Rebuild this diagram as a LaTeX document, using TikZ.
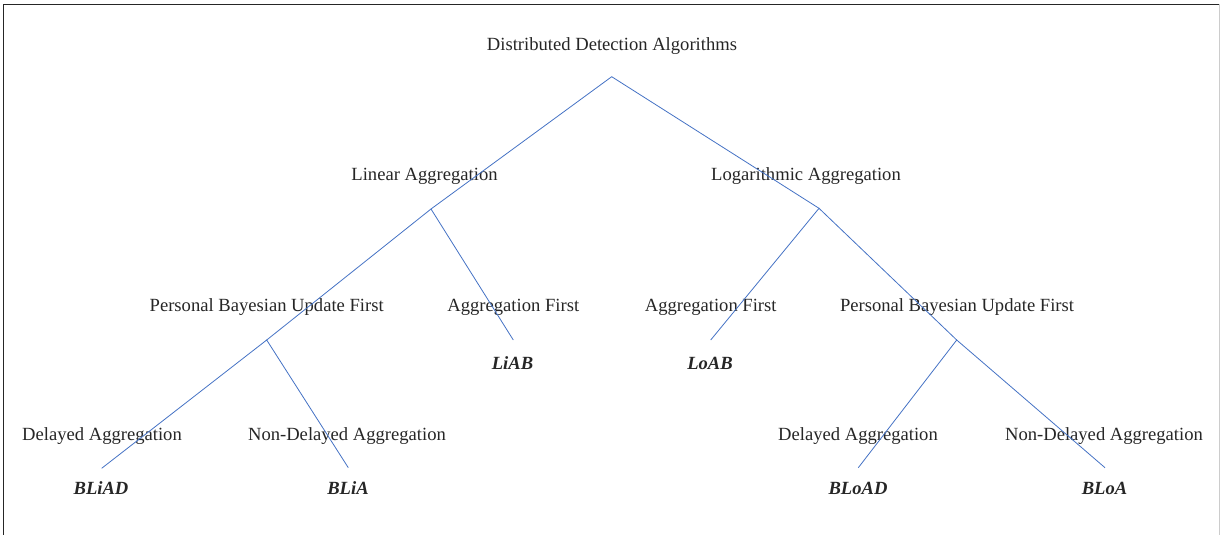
\documentclass[tikz,border=0pt]{standalone}
\usepackage{fontspec}
\setmainfont{Liberation Serif}
\begin{document}
\begin{tikzpicture}[x=1pt,y=-1pt,
  lbl/.style={inner sep=0pt,text=black!85,font=\fontsize{18.6}{22}\selectfont},
  res/.style={inner sep=0pt,text=black!85,font=\fontsize{18.6}{22}\selectfont\bfseries\itshape},
  branch/.style={draw={rgb,255:red,68;green,114;blue,196},line width=0.8pt}]
\useasboundingbox (0,0) rectangle (1220,535);
% frame
\draw[black!85,line width=1.2pt] (3.7,540) -- (3.7,4.4) -- (1219,4.4);
\draw[black!20,line width=1pt] (1219,4.4) -- (1219,540);
% labels
\node[lbl] (root) at (612,46) {Distributed Detection Algorithms};
\node[lbl] (lin) at (424.5,176) {Linear Aggregation};
\node[lbl] (log) at (806,176) {Logarithmic Aggregation};
\node[lbl] (pbl) at (266.7,307.5) {Personal Bayesian Update First};
\node[lbl] (afl) at (513.3,307.5) {Aggregation First};
\node[lbl] (afr) at (710.7,307.5) {Aggregation First};
\node[lbl] (pbr) at (957,307.5) {Personal Bayesian Update First};
\node[res] (liab) at (512.5,363.5) {LiAB};
\node[res] (loab) at (710,363.5) {LoAB};
\node[lbl] (dal) at (102,436.5) {Delayed Aggregation};
\node[lbl] (ndl) at (347,436.5) {Non-Delayed Aggregation};
\node[lbl] (dar) at (858,436.5) {Delayed Aggregation};
\node[lbl] (ndr) at (1104,436.5) {Non-Delayed Aggregation};
\node[res] (bliad) at (101,488.5) {BLiAD};
\node[res] (blia) at (348,488.5) {BLiA};
\node[res] (bload) at (858,488.5) {BLoAD};
\node[res] (bloa) at (1104.5,488.5) {BLoA};
% junctions and ends
\coordinate (apex) at (611.7,76.7);
\coordinate (jlin) at (431,209);
\coordinate (jlog) at (819,208.3);
\coordinate (jpbl) at (266.7,340);
\coordinate (jpbr) at (956.7,340);
\coordinate (eliab) at (513.3,340);
\coordinate (eloab) at (710.7,340);
\coordinate (ebliad) at (101.7,468.3);
\coordinate (eblia) at (348.3,467.7);
\coordinate (ebload) at (858.3,467.7);
\coordinate (ebloa) at (1105,467.7);
% connectors
\draw[branch] (jlin) -- (apex) -- (jlog);
\draw[branch] (jpbl) -- (jlin) -- (eliab);
\draw[branch] (eloab) -- (jlog) -- (jpbr);
\draw[branch] (ebliad) -- (jpbl) -- (eblia);
\draw[branch] (ebload) -- (jpbr) -- (ebloa);
\end{tikzpicture}
\end{document}
